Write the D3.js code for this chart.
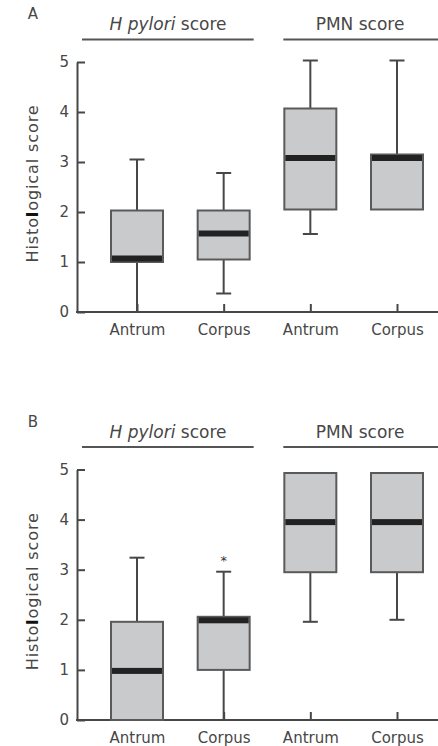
<!DOCTYPE html>
<html>
<head>
<meta charset="utf-8">
<script src="https://cdn.jsdelivr.net/npm/d3@7"></script>
<style>
  html, body { margin: 0; padding: 0; background: #fff; }
  svg { display: block; }
  text { font-family: "DejaVu Sans", sans-serif; fill: #474747; }
</style>
</head>
<body>
<svg id="chart" width="438" height="746"></svg>
<script>
// ---- data ----
const categories = ["Antrum", "Corpus", "Antrum", "Corpus"];
const groupTitles = ["H pylori", "PMN score"];
const yTicks = [0, 1, 2, 3, 4, 5];
const panelLabels = ["A", "B"];

// Panel A
const aMin    = [0,    0.37, 1.56, 2.05];
const aQ1     = [1.0,  1.05, 2.05, 2.05];
const aMedian = [1.07, 1.57, 3.08, 3.08];
const aQ3     = [2.03, 2.03, 4.07, 3.15];
const aMax    = [3.05, 2.78, 5.03, 5.03];
const aOutliers = [];

// Panel B
const bMin    = [0,    0,    1.96, 2.0];
const bQ1     = [0,    1.0,  2.95, 2.95];
const bMedian = [0.98, 1.99, 3.95, 3.95];
const bQ3     = [1.96, 2.06, 4.93, 4.93];
const bMax    = [3.24, 2.96, 4.93, 4.93];
const bOutliers = [{ idx: 1, value: 3.22 }];

// ---- drawing ----
const svg = d3.select("#chart");
const ink = "#474747";

function drawPanel(label, yBottom, yTop, mins, q1s, meds, q3s, maxs, outliers) {
  const g = svg.append("g");
  const x = d3.scalePoint().domain(d3.range(categories.length)).range([137, 397]);
  const y = d3.scaleLinear().domain([0, 5]).range([yBottom, yTop]);
  const boxW = 52, capW = 15, medH = 6;

  // panel letter
  g.append("text").attr("x", 33).attr("y", y(5) - 43)
    .attr("text-anchor", "middle").style("font-size", "15px").text(label);

  // group titles and their rules
  const t1 = g.append("text").attr("x", 168).attr("y", y(5) - 32)
    .attr("text-anchor", "middle").style("font-size", "17px");
  t1.append("tspan").style("font-style", "italic").text(groupTitles[0]);
  t1.append("tspan").text(" score");
  g.append("text").attr("x", 360).attr("y", y(5) - 32)
    .attr("text-anchor", "middle").style("font-size", "17px").text(groupTitles[1]);
  g.append("line").attr("x1", x(0) - 55).attr("x2", x(1) + 30)
    .attr("y1", y(5) - 22.5).attr("y2", y(5) - 22.5)
    .attr("stroke", "#555").attr("stroke-width", 2);
  g.append("line").attr("x1", x(2) - 27).attr("x2", 445)
    .attr("y1", y(5) - 22.5).attr("y2", y(5) - 22.5)
    .attr("stroke", "#555").attr("stroke-width", 2);

  // y axis
  const yAxis = d3.axisLeft(y).tickValues(yTicks).tickFormat(d3.format("d"))
    .tickSizeInner(-8).tickSizeOuter(0).tickPadding(8);
  const ya = g.append("g").attr("transform", "translate(77,0)").call(yAxis);
  ya.selectAll("path, line").attr("stroke", ink).attr("stroke-width", 2);
  ya.selectAll("text").style("font-size", "15px").style("fill", ink).style("font-family", "DejaVu Sans, sans-serif");

  // x axis
  const xAxis = d3.axisBottom(x).tickFormat(i => categories[i])
    .tickSizeInner(-8).tickSizeOuter(0).tickPadding(12);
  const xa = g.append("g").attr("transform", `translate(0,${y(0)})`).call(xAxis);
  xa.select(".domain").remove();
  xa.selectAll("line").attr("stroke", ink).attr("stroke-width", 2);
  xa.selectAll("text").style("font-size", "15px").style("fill", ink).style("font-family", "DejaVu Sans, sans-serif");
  g.append("line").attr("x1", 76).attr("x2", 445).attr("y1", y(0)).attr("y2", y(0))
    .attr("stroke", ink).attr("stroke-width", 2);

  // y-axis title
  const yt = g.append("text")
    .attr("transform", `translate(37.5,${y(2.57)}) rotate(-90)`)
    .attr("text-anchor", "middle").style("font-size", "16px").style("letter-spacing", "0.9px");
  yt.append("tspan").text("Histo");
  yt.append("tspan").style("font-weight", "900").style("fill", "#111").text("l");
  yt.append("tspan").text("ogical score");

  const idx = d3.range(categories.length);
  // whiskers
  idx.forEach(i => {
    const cx = x(i);
    if (maxs[i] > q3s[i]) {
      g.append("line").attr("x1", cx).attr("x2", cx).attr("y1", y(q3s[i])).attr("y2", y(maxs[i]))
        .attr("stroke", ink).attr("stroke-width", 2);
      g.append("line").attr("x1", cx - capW / 2).attr("x2", cx + capW / 2)
        .attr("y1", y(maxs[i])).attr("y2", y(maxs[i])).attr("stroke", ink).attr("stroke-width", 2);
    }
    if (mins[i] < q1s[i]) {
      g.append("line").attr("x1", cx).attr("x2", cx).attr("y1", y(q1s[i])).attr("y2", y(mins[i]))
        .attr("stroke", ink).attr("stroke-width", 2);
      if (mins[i] > 0) {
        g.append("line").attr("x1", cx - capW / 2).attr("x2", cx + capW / 2)
          .attr("y1", y(mins[i])).attr("y2", y(mins[i])).attr("stroke", ink).attr("stroke-width", 2);
      }
    }
  });
  // boxes
  g.selectAll("rect.box").data(idx).join("rect").attr("class", "box")
    .attr("x", i => x(i) - boxW / 2).attr("width", boxW)
    .attr("y", i => y(q3s[i])).attr("height", i => y(q1s[i]) - y(q3s[i]))
    .attr("fill", "#c9cacc").attr("stroke", "#5a5a5a").attr("stroke-width", 2);
  // medians
  g.selectAll("rect.med").data(idx).join("rect").attr("class", "med")
    .attr("x", i => x(i) - boxW / 2 + 1).attr("width", boxW - 2)
    .attr("y", i => y(meds[i]) - medH / 2).attr("height", medH)
    .attr("fill", "#222");
  // outliers
  g.selectAll("text.out").data(outliers).join("text").attr("class", "out")
    .attr("x", d => x(d.idx)).attr("y", d => y(d.value) + 6)
    .attr("text-anchor", "middle").style("font-size", "13px").style("fill", "#333").text("*");
}

drawPanel(panelLabels[0], 312, 62, aMin, aQ1, aMedian, aQ3, aMax, aOutliers);
drawPanel(panelLabels[1], 720, 469.5, bMin, bQ1, bMedian, bQ3, bMax, bOutliers);
</script>
</body>
</html>
